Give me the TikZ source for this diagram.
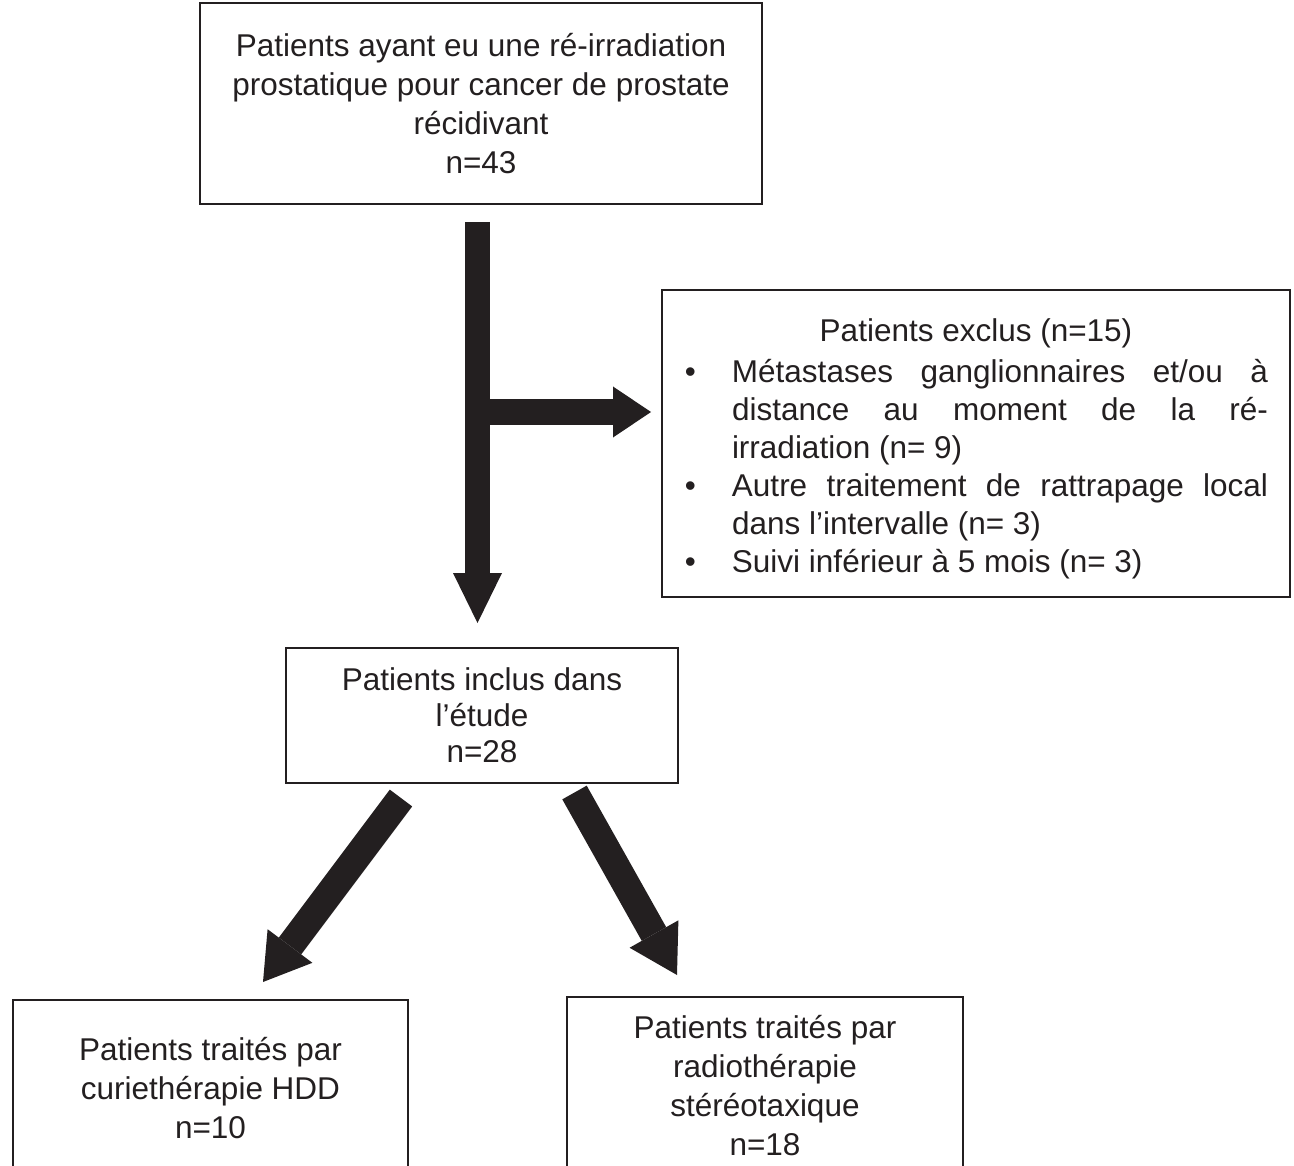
\documentclass[tikz,border=0pt]{standalone}
\usepackage{fontspec}
\setmainfont{Liberation Sans}
\usetikzlibrary{arrows.meta}

\definecolor{ink}{HTML}{231F20}
\newcommand{\exitem}{\noindent\llap{\textbullet\hskip 36pt}}

\tikzset{
  flowbox/.style={draw=ink, line width=2pt, text=ink, align=center, inner sep=0pt,
    font=\fontsize{31.5}{39}\selectfont},
  bigarrow/.style n args={3}{draw=ink, line width=#1,
    -{Triangle[width=#2, length=#3, line width=0pt]}}
}

\begin{document}
\begin{tikzpicture}[x=1pt, y=-1pt]
\useasboundingbox (0,0) rectangle (1294,1166);
\clip (0,0) rectangle (1294,1166);

% boxes %
\node[flowbox, minimum width=562pt, minimum height=201pt] (start) at (481,103.5)
  {Patients ayant eu une ré-irradiation\\prostatique pour cancer de prostate\\récidivant\\n=43};
\node[flowbox, align=justify, text width=628pt, minimum height=307pt,
  font=\fontsize{31.5}{38}\selectfont] (excl) at (976,443.5)
  {{\centering Patients exclus (n=15)\par}\vspace{3pt}
   \parindent=0pt \leftskip=70pt \rightskip=22pt
   \exitem Métastases ganglionnaires et/ou à\linebreak distance au moment de la ré-\linebreak irradiation (n= 9)\par
   \exitem Autre traitement de rattrapage local\linebreak dans l’intervalle (n= 3)\par
   \exitem Suivi inférieur à 5 mois (n= 3)\par\vspace{-10pt}};
\node[flowbox, minimum width=392pt, minimum height=135pt,
  font=\fontsize{31.5}{36}\selectfont] (incl) at (482,715.5)
  {Patients inclus dans\\l’étude\\n=28};
\node[flowbox, minimum width=395pt, minimum height=176pt] (hdd) at (210.5,1088)
  {Patients traités par\\curiethérapie HDD\\n=10};
\node[flowbox, minimum width=396pt, minimum height=178pt] (sbrt) at (765,1086)
  {Patients traités par\\radiothérapie\\stéréotaxique\\n=18};

% arrows %
\coordinate (stem) at (477.5,222);
\coordinate (split) at (477.5,412);
\coordinate (stemend) at (477.5,623);
\coordinate (exclend) at (651,412);
\coordinate (lefttail) at (401,798);
\coordinate (lefttip) at (263,982);
\coordinate (righttail) at (574.5,792.5);
\coordinate (righttip) at (677,975);

\draw[bigarrow={25pt}{49pt}{50pt}] (stem) -- (stemend);
\draw[bigarrow={26pt}{51pt}{38pt}] (split) -- (exclend);
\draw[bigarrow={28pt}{56pt}{45pt}] (lefttail) -- (lefttip);
\draw[bigarrow={28pt}{56pt}{47pt}] (righttail) -- (righttip);
\end{tikzpicture}
\end{document}
